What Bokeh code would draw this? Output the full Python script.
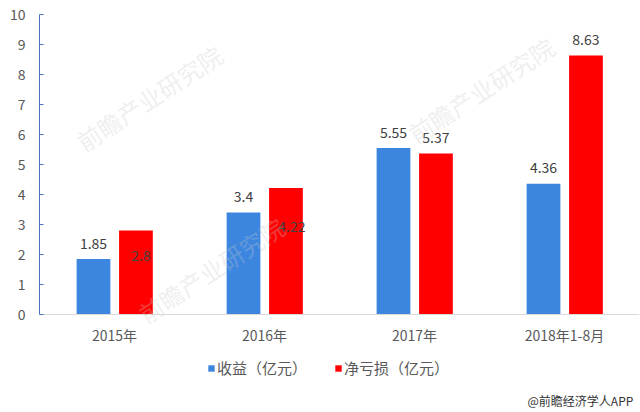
from bokeh.plotting import figure
from bokeh.models import ColumnDataSource, FactorRange, Legend, LegendItem, Label, Range1d, FixedTicker
from bokeh.transform import dodge
from bokeh.core.properties import value
from bokeh.embed import file_html
from bokeh.resources import INLINE

categories = ["2015年", "2016年", "2017年", "2018年1-8月"]
revenue = [1.85, 3.4, 5.55, 4.36]
net_loss = [2.8, 4.22, 5.37, 8.63]
revenue_labels = ["1.85", "3.4", "5.55", "4.36"]
loss_labels = ["2.8", "4.22", "5.37", "8.63"]
series_names = ["收益（亿元）", "净亏损（亿元）"]
y_ticks = list(range(0, 11))
footer_text = "@前瞻经济学人APP"
watermark_text = "前瞻产业研究院"

FONT = "Noto Sans CJK SC"
BLUE = "#3C86E0"
RED = "#FF0000"

src = ColumnDataSource(dict(
    cat=categories, rev=revenue, loss=net_loss,
    rev_lab=revenue_labels, loss_lab=loss_labels,
    # pixel offsets of the value labels (style only)
    rev_dy=[-16, -16, -16, -16],
    loss_dy=[25, 39, -16, -16],
    loss_dx=[5, 6, 0, 0],
))

# frame spans the full height below the top margin; the value axis is kept to 0..10,
# the room under 0 holds the category labels, legend and footer
p = figure(width=640, height=412, x_range=FactorRange(*categories, range_padding=0),
           y_range=Range1d(-98 / 30, 10), output_backend="svg", toolbar_location=None,
           min_border_left=39, min_border_right=1, min_border_top=14, min_border_bottom=0)
p.outline_line_color = None
p.grid.visible = False
p.background_fill_color = "white"

r1 = p.vbar(x=dodge("cat", -0.14, range=p.x_range), top="rev", bottom=0, width=0.225,
            source=src, fill_color=BLUE, line_color=None)
r2 = p.vbar(x=dodge("cat", 0.143, range=p.x_range), top="loss", bottom=0, width=0.225,
            source=src, fill_color=RED, line_color=None)

p.text(x=dodge("cat", -0.14, range=p.x_range), y="rev", text="rev_lab", y_offset="rev_dy",
       source=src, text_align="center", text_baseline="middle", text_font=value(FONT),
       text_font_size="14px", text_color="#404040")
p.text(x=dodge("cat", 0.143, range=p.x_range), y="loss", text="loss_lab", y_offset="loss_dy",
       x_offset="loss_dx", source=src, text_align="center", text_baseline="middle",
       text_font=value(FONT), text_font_size="14px", text_color="#404040")

# y axis
ya = p.yaxis[0]
ya.ticker = FixedTicker(ticks=y_ticks)
ya.bounds = (0, 10)
ya.axis_line_color = "#4A72C0"
ya.major_tick_line_color = "#4A72C0"
ya.major_tick_in = 4
ya.major_tick_out = 0
ya.minor_tick_line_color = None
ya.major_label_standoff = 14
ya.major_label_text_font = FONT
ya.major_label_text_font_size = "14px"
ya.major_label_text_color = "#595959"

xa = p.xaxis[0]
xa.fixed_location = 0
xa.axis_line_color = "#D9D9D9"
xa.major_tick_line_color = None
xa.minor_tick_line_color = None
xa.major_label_standoff = 4
xa.major_label_text_font = FONT
xa.major_label_text_font_size = "14px"
xa.major_label_text_color = "#595959"

legend = Legend(items=[LegendItem(label=series_names[0], renderers=[r1]),
                       LegendItem(label=series_names[1], renderers=[r2])],
                orientation="horizontal", location=(168, 34),
                glyph_width=8, glyph_height=8, label_text_font=FONT,
                label_text_font_size="15px", label_text_color="#595959",
                spacing=27, label_standoff=2, border_line_color=None,
                background_fill_alpha=0, padding=0, margin=0, label_height=18)
p.add_layout(legend, "center")

p.add_layout(Label(x=488, y=12, x_units="screen", y_units="screen", text=footer_text,
                   text_baseline="middle", text_font=FONT, text_font_size="12px",
                   text_color="#333333"))

# faint watermark (screen offsets from the frame's lower-left corner)
for (wx, wy) in [(49, 254), (381, 262), (111, 82)]:
    p.add_layout(Label(x=wx, y=wy, x_units="screen", y_units="screen", text=watermark_text,
                       angle=0.58, text_font=FONT, text_font_size="24px",
                       text_color="#C8C8C8", text_alpha=0.3))

open("out.html", "w").write(file_html(p, INLINE))
